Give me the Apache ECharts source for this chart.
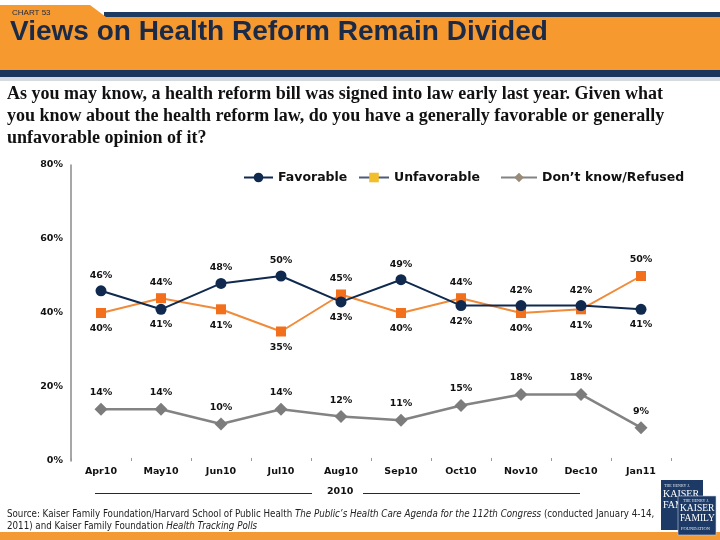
<!DOCTYPE html>
<html><head><meta charset="utf-8">
<style>html,body{margin:0;padding:0;background:#fff}#c{width:720px;height:540px}</style>
<script src="https://cdn.jsdelivr.net/npm/echarts@6/dist/echarts.min.js"></script>
</head><body><div id="c"></div>
<script>
var categories = ['Apr10','May10','Jun10','Jul10','Aug10','Sep10','Oct10','Nov10','Dec10','Jan11'];
var favorable = [46,41,48,50,43,49,42,42,42,41];
var unfavorable = [40,44,41,35,45,40,44,40,41,50];
var dontKnow = [14,14,10,14,12,11,15,18,18,9];
var yTicks = {min:0, max:80, interval:20};

var NAVY = '#10294f', GRAY = '#838383';
var lblFont = {fontFamily:'DejaVu Sans', fontWeight:'bold', fontSize:9.5, color:'#111'};
var legText = {fontFamily:'DejaVu Sans', fontWeight:'bold', fontSize:12.5, color:'#111'};
var chart = echarts.init(document.getElementById('c'), null, {renderer:'canvas'});

function withPos(arr, other){
  return arr.map(function(v,i){
    return {value:v, label:{position: v >= other[i] ? 'top' : 'bottom'}};
  });
}

var option = {
  animation:false,
  backgroundColor:'#fff',
  grid:{left:71, right:49, top:165, bottom:79},
  legend:[
    {left:243, top:171, padding:0, itemWidth:29, itemHeight:12, data:[{name:'Favorable'}], textStyle:legText},
    {left:358, top:171, padding:0, itemWidth:30, itemHeight:12, data:[{name:'Unfavorable', itemStyle:{color:'#f3be2c'}, lineStyle:{color:'#4d5a78'}}], textStyle:legText},
    {left:500, top:171, padding:0, itemWidth:36, itemHeight:12, data:[{name:"Don\u2019t know/Refused", itemStyle:{color:'#9a8a78'}}], textStyle:legText}
  ],
  xAxis:{type:'category', data:categories, boundaryGap:true,
    axisLine:{show:false},
    axisTick:{show:true, inside:true, length:3, lineStyle:{color:'#999'}},
    axisLabel:{margin:6, fontFamily:'DejaVu Sans', fontWeight:'bold', fontSize:9.5, color:'#111'}},
  yAxis:{type:'value', min:yTicks.min, max:yTicks.max, interval:yTicks.interval,
    splitLine:{show:false},
    axisLine:{show:true, lineStyle:{color:'#8a8a8a', width:1.5}},
    axisTick:{show:false},
    axisLabel:{margin:8, formatter:'{value}%', fontFamily:'DejaVu Sans', fontWeight:'bold', fontSize:9.5, color:'#111'}},
  series:[
    {name:"Don\u2019t know/Refused", type:'line', data:dontKnow, symbol:'diamond', symbolSize:13,
     lineStyle:{color:GRAY, width:2.5}, itemStyle:{color:'#7c7c7c'},
     label:Object.assign({show:true, position:'top', distance:5, formatter:'{c}%'}, lblFont), z:2},
    {name:'Unfavorable', type:'line', data:withPos(unfavorable, favorable), symbol:'rect', symbolSize:10,
     lineStyle:{color:'#f08b3a', width:2}, itemStyle:{color:'#f26f1c'},
     label:Object.assign({show:true, distance:6, formatter:'{c}%'}, lblFont), z:3},
    {name:'Favorable', type:'line', data:withPos(favorable, unfavorable), symbol:'circle', symbolSize:11,
     lineStyle:{color:NAVY, width:2}, itemStyle:{color:NAVY},
     label:Object.assign({show:true, distance:5, formatter:'{c}%'}, lblFont), z:4}
  ],
  graphic:[
    {type:'rect', shape:{x:0,y:77,width:720,height:4}, style:{fill:'#d6dbe2'}, silent:true},
    {type:'rect', shape:{x:104,y:12,width:616,height:7}, style:{fill:'#1d3a60'}, silent:true},
    {type:'polygon', shape:{points:[[0,5],[90,5],[106,17],[720,17],[720,70],[0,70]]}, style:{fill:'#f6992f'}, silent:true},
    {type:'rect', shape:{x:0,y:70,width:720,height:7}, style:{fill:'#1b365d'}, silent:true},
    {type:'text', left:12, top:9, style:{text:'CHART 53', fill:'#1a2a47', font:'8px "Liberation Sans"'}, silent:true},
    {type:'text', left:10, top:18, style:{text:'Views on Health Reform Remain Divided', fill:'#1a2a47', font:'bold 28px "Liberation Sans"'}, silent:true},
    {type:'text', left:7, top:83, style:{text:'As you may know, a health reform bill was signed into law early last year. Given what\nyou know about the health reform law, do you have a generally favorable or generally\nunfavorable opinion of it?', fill:'#111', font:'bold 18px "Liberation Serif"', lineHeight:22}, silent:true},
    {type:'line', shape:{x1:95,y1:493.5,x2:312,y2:493.5}, style:{stroke:'#1a2a47', lineWidth:1}, silent:true},
    {type:'line', shape:{x1:363,y1:493.5,x2:580,y2:493.5}, style:{stroke:'#1a2a47', lineWidth:1}, silent:true},
    {type:'text', left:327, top:487, style:{text:'2010', fill:'#111', font:'bold 9.5px "DejaVu Sans"'}, silent:true},
    {type:'text', left:7, top:509, style:{
      text:'{n|Source: Kaiser Family Foundation/Harvard School of Public Health }{i|The Public\u2019s Health Care Agenda for the 112th Congress}{n| (conducted January 4-14,}\n{n|2011) and Kaiser Family Foundation }{i|Health Tracking Polls}',
      rich:{n:{fontFamily:'DejaVu Sans Condensed', fontSize:9.7, fill:'#222', lineHeight:12}, i:{fontFamily:'DejaVu Sans Condensed', fontStyle:'italic', fontSize:9.7, fill:'#222', lineHeight:12}}}, silent:true},
    {type:'rect', shape:{x:0,y:532,width:720,height:8}, style:{fill:'#f39a34'}, silent:true},
    {type:'rect', shape:{x:661,y:480,width:42,height:50}, style:{fill:'#1d3a66'}, silent:true},
    {type:'text', left:664, top:484, style:{text:'THE HENRY J.', fill:'#dfe6f0', font:'4px "Liberation Serif"'}, silent:true},
    {type:'text', left:663, top:489, style:{text:'KAISER', fill:'#fff', font:'10px "Liberation Serif"'}, silent:true},
    {type:'text', left:663, top:500, style:{text:'FAMILY', fill:'#fff', font:'10px "Liberation Serif"'}, silent:true},
    {type:'rect', shape:{x:678,y:496,width:38,height:39}, style:{fill:'#1d3a66', stroke:'#c8d2e0', lineWidth:0.6}, silent:true},
    {type:'text', left:683, top:499, style:{text:'THE HENRY J.', fill:'#dfe6f0', font:'4px "Liberation Serif"'}, silent:true},
    {type:'text', left:680, top:503, style:{text:'KAISER', fill:'#fff', font:'9.5px "Liberation Serif"'}, silent:true},
    {type:'text', left:680, top:513, style:{text:'FAMILY', fill:'#fff', font:'9.5px "Liberation Serif"'}, silent:true},
    {type:'text', left:681, top:526, style:{text:'FOUNDATION', fill:'#dfe6f0', font:'4.5px "Liberation Serif"'}, silent:true}
  ]
};
chart.setOption(option);
</script></body></html>
